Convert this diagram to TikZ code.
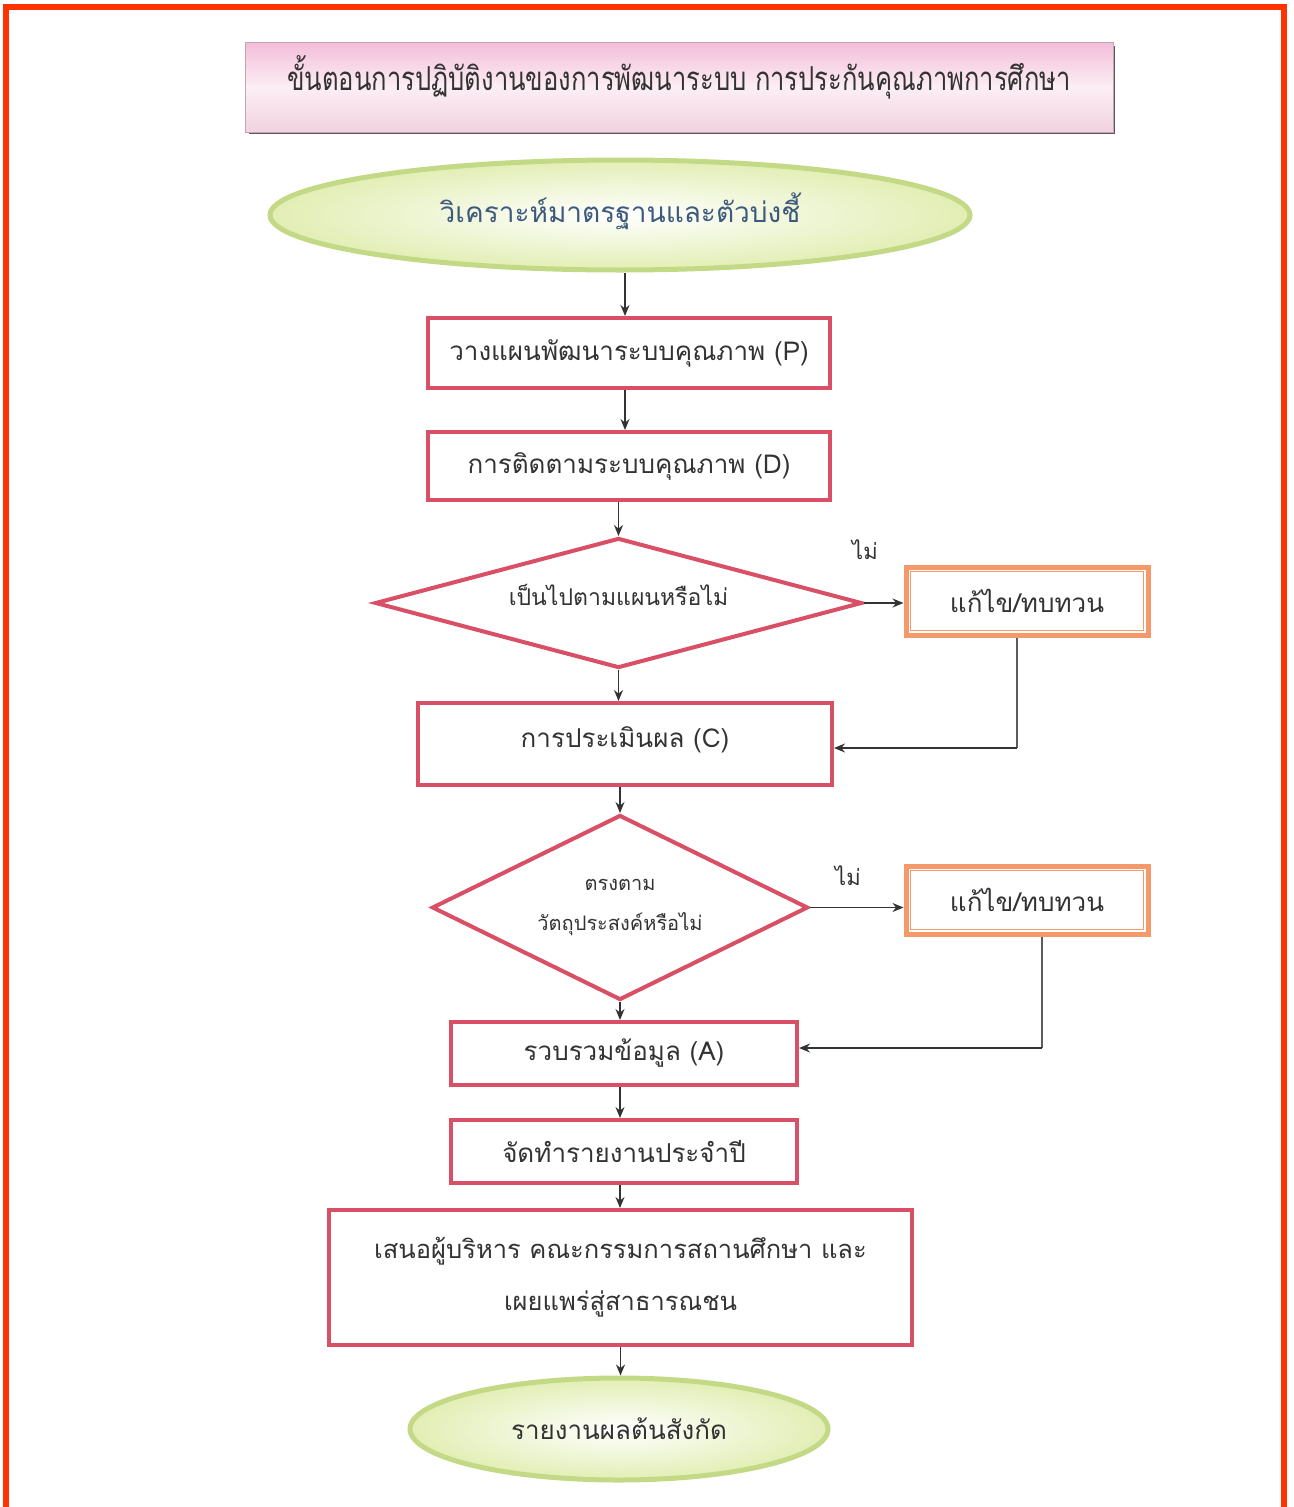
\documentclass[tikz,border=0pt]{standalone}
\usepackage{fontspec}
\setmainfont[Script=Thai]{Loma}
\newfontfamily\thaicond[Script=Thai,FakeStretch=0.775]{Loma}
\usetikzlibrary{shapes.geometric,arrows.meta,calc}
\definecolor{framered}{HTML}{FF3300}
\definecolor{boxred}{HTML}{D84F66}
\definecolor{fixorange}{HTML}{F5996A}
\definecolor{ink}{HTML}{333333}
\definecolor{slateblue}{HTML}{3D5A7E}
\definecolor{rimgreen}{HTML}{C4D985}
\definecolor{fillgreen}{HTML}{E2EEB4}
\definecolor{pinktop}{HTML}{F3BDD9}
\definecolor{pinkmid}{HTML}{FCEEF4}
\definecolor{pinkbot}{HTML}{F1D3DF}
\tikzset{
  stepbox/.style={draw=boxred, line width=4pt, fill=white, inner sep=0pt,
    text=ink, font=\fontsize{26}{30}\selectfont, align=center},
  fixbox/.style={draw=fixorange, line width=5pt, fill=white, inner sep=0pt,
    minimum width=242pt, minimum height=68pt, text=ink,
    font=\fontsize{26}{30}\selectfont},
  decision/.style={diamond, draw=boxred, line width=4pt, inner sep=0pt,
    text=ink, align=center},
  terminal/.style={ellipse, draw=rimgreen, line width=5pt, inner color=white,
    outer color=fillgreen, inner sep=0pt},
  arr/.style={draw=ink, line width=1.5pt, -{Stealth[length=11pt,width=9pt]}},
  link/.style={draw=ink!80, line width=1.5pt},
  nolabel/.style={text=ink, font=\fontsize{22}{26}\selectfont}
}
\begin{document}
\begin{tikzpicture}[x=1pt,y=-1pt]
\useasboundingbox (0,0) rectangle (1293,1507);
\clip (0,0) rectangle (1293,1507);
\fill[white] (0,0) rectangle (1293,1507);
% outer frame
\draw[framered, line width=6pt] (6,1540) -- (6,7) -- (1284,7) -- (1284,1540);

% title banner with its shadow
\fill[black!65] (249,46) rectangle (1115,134);
\node[draw=pinktop!60!gray, line width=0.8pt, top color=pinktop, bottom color=pinkbot,
  middle color=pinkmid, minimum width=868pt, minimum height=90pt, inner sep=0pt,
  text=ink, font=\thaicond\fontsize{33}{38}\selectfont]
  (title) at (679,87) {\raisebox{28pt}{ขั้นตอนการปฏิบัติงานของการพัฒนาระบบ การประกันคุณภาพการศึกษา}};

% start terminal
\node[terminal, minimum width=700pt, minimum height=110pt, text=slateblue,
  font=\fontsize{28}{32}\selectfont] (start) at (620,215) {\raisebox{14pt}{วิเคราะห์มาตรฐานและตัวบ่งชี้}};

% process steps
\node[stepbox, minimum width=402pt, minimum height=70pt] (plan) at (629,353) {วางแผนพัฒนาระบบคุณภาพ (P)};
\node[stepbox, minimum width=402pt, minimum height=68pt] (track) at (629,466) {การติดตามระบบคุณภาพ (D)};

\node[decision, aspect=3.75, minimum width=487pt, minimum height=130pt,
  font=\fontsize{23}{28}\selectfont] (plancheck) at (618.5,603) {\raisebox{16pt}{เป็นไปตามแผนหรือไม่}};
\node[fixbox] (fix1) at (1027,601) {แก้ไข/ทบทวน};
\draw[fixorange, line width=1pt] ($(fix1.north west)+(7,7)$) rectangle ($(fix1.south east)+(-7,-7)$);

\node[stepbox, minimum width=414pt, minimum height=82pt] (evaluate) at (625,744) {\raisebox{14pt}{การประเมินผล (C)}};

\node[decision, aspect=2.03, minimum width=376pt, minimum height=185pt,
  font=\fontsize{20}{40}\selectfont] (goalcheck) at (620,907.5) {ตรงตาม\\วัตถุประสงค์หรือไม่};
\node[fixbox] (fix2) at (1027,900) {แก้ไข/ทบทวน};
\draw[fixorange, line width=1pt] ($(fix2.north west)+(7,7)$) rectangle ($(fix2.south east)+(-7,-7)$);

\node[stepbox, minimum width=346pt, minimum height=63pt] (collect) at (624,1053.5) {รวบรวมข้อมูล (A)};
\node[stepbox, minimum width=346pt, minimum height=63pt] (report) at (624,1151.5) {จัดทำรายงานประจำปี};
\node[stepbox, minimum width=583pt, minimum height=135pt,
  font=\fontsize{25.5}{52}\selectfont] (present) at (620.5,1277.5)
  {เสนอผู้บริหาร คณะกรรมการสถานศึกษา และ\\เผยแพร่สู่สาธารณชน};

% end terminal
\node[terminal, minimum width=418pt, minimum height=102pt, text=ink,
  font=\fontsize{26}{30}\selectfont] (finish) at (619,1429) {รายงานผลต้นสังกัด};

% connectors
\draw[arr] (start.south -| plan.north) ++(-4,0) coordinate (s0) -- (s0 |- plan.north);
\draw[arr] ($(plan.south)+(-4,0)$) -- ($(track.north)+(-4,0)$);
\draw[arr] (plancheck.north |- track.south) -- (plancheck.north);
\draw[arr] (plancheck.east) -- (plancheck.east -| fix1.west);
\node[nolabel] (no1) at (865,550) {ไม่};
\draw[arr] (plancheck.south) -- (plancheck.south |- evaluate.north);
\draw[link] ($(fix1.south)+(-10,0)$) coordinate (f1) -- (f1 |- 0,748) coordinate (f1b);
\draw[arr] (f1b) -- (evaluate.east |- f1b);

\draw[arr] (goalcheck.north |- evaluate.south) -- (goalcheck.north);
\draw[arr] (goalcheck.east) -- (goalcheck.east -| fix2.west);
\node[nolabel] (no2) at (848,876) {ไม่};
\draw[link] ($(fix2.south)+(15,0)$) coordinate (f2) -- (f2 |- 0,1048) coordinate (f2b);
\draw[arr] (f2b) -- (collect.east |- f2b);

\draw[arr] (goalcheck.south) -- (goalcheck.south |- collect.north);
\draw[arr] ($(collect.south)+(-4,0)$) -- ($(report.north)+(-4,0)$);
\draw[arr] ($(report.south)+(-4,0)$) -- ($(present.north)+(-0.5,0)$);
\draw[arr] (present.south) -- (finish.north -| present.south);
\end{tikzpicture}
\end{document}
